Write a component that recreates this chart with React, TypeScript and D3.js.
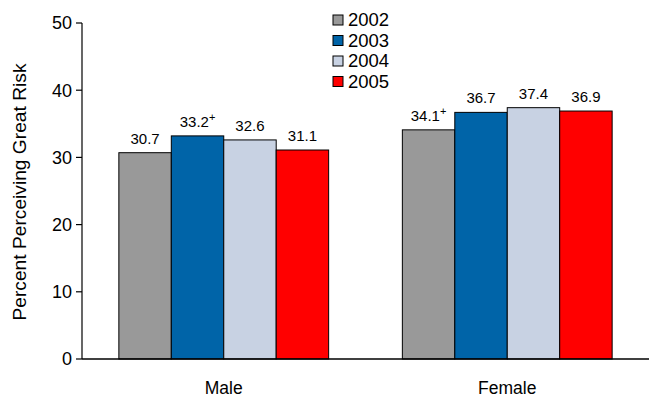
import React from "react";
import * as d3 from "d3";

const categories = ["Male", "Female"];
const years = ["2002", "2003", "2004", "2005"];
const colors = ["#999999", "#0064A8", "#C8D2E3", "#FF0000"];
const values2002 = [30.7, 34.1];
const values2003 = [33.2, 36.7];
const values2004 = [32.6, 37.4];
const values2005 = [31.1, 36.9];
const marks2002 = ["", "+"];
const marks2003 = ["+", ""];
const marks2004 = ["", ""];
const marks2005 = ["", ""];
const yTicks = [0, 10, 20, 30, 40, 50];

const series = [values2002, values2003, values2004, values2005];
const marks = [marks2002, marks2003, marks2004, marks2005];

export default function App() {
  const W = 660, H = 401;
  const left = 82, right = 649, top = 23, bottom = 359;
  const x0 = d3.scaleBand().domain(categories).range([left, right]).paddingInner(0.26).paddingOuter(0.13);
  const x1 = d3.scaleBand().domain(years).range([0, x0.bandwidth()]);
  const y = d3.scaleLinear().domain([0, 50]).range([bottom, top]);
  const font = "Arial, 'Liberation Sans', sans-serif";

  return (
    <svg width={W} height={H} style={{ position: "absolute", left: 0, top: 0, background: "#fff" }} fontFamily={font}>
      {categories.map((c, ci) => (
        <g key={c}>
          {years.map((yr, si) => {
            const v = series[si][ci];
            const bx = (x0(c) as number) + (x1(yr) as number);
            const bw = x1.bandwidth();
            return (
              <g key={yr}>
                <rect x={bx} y={y(v)} width={bw} height={bottom - y(v)} fill={colors[si]} stroke="#000" strokeWidth={1} />
                <text x={bx + bw / 2} y={y(v) - 9} textAnchor="middle" fontSize={15} fill="#000">
                  {v.toFixed(1)}
                  {marks[si][ci] ? <tspan fontSize={11} dy={-6}>{marks[si][ci]}</tspan> : null}
                </text>
              </g>
            );
          })}
          <text x={(x0(c) as number) + x0.bandwidth() / 2} y={394} textAnchor="middle" fontSize={17.5} fill="#000">{c}</text>
        </g>
      ))}
      <line x1={left} x2={left} y1={top} y2={bottom} stroke="#000" strokeWidth={1.2} />
      <line x1={left} x2={right} y1={bottom} y2={bottom} stroke="#000" strokeWidth={1.5} />
      {yTicks.map((t) => (
        <g key={t}>
          <line x1={left - 6} x2={left} y1={y(t)} y2={y(t)} stroke="#000" strokeWidth={1.2} />
          <text x={72} y={y(t)} dy="0.35em" textAnchor="end" fontSize={18} fill="#000">{t}</text>
        </g>
      ))}
      <text transform={`translate(26,${(top + bottom) / 2 + 1}) rotate(-90)`} textAnchor="middle" fontSize={19.2} fill="#000">Percent Perceiving Great Risk</text>
      {years.map((yr, i) => (
        <g key={yr} transform={`translate(333,${20 + i * 20.5})`}>
          <rect x={0} y={-5} width={10} height={10} fill={colors[i]} stroke="#000" strokeWidth={1} />
          <text x={15} y={0} dy="0.35em" fontSize={18.5} fill="#000">{yr}</text>
        </g>
      ))}
    </svg>
  );
}
